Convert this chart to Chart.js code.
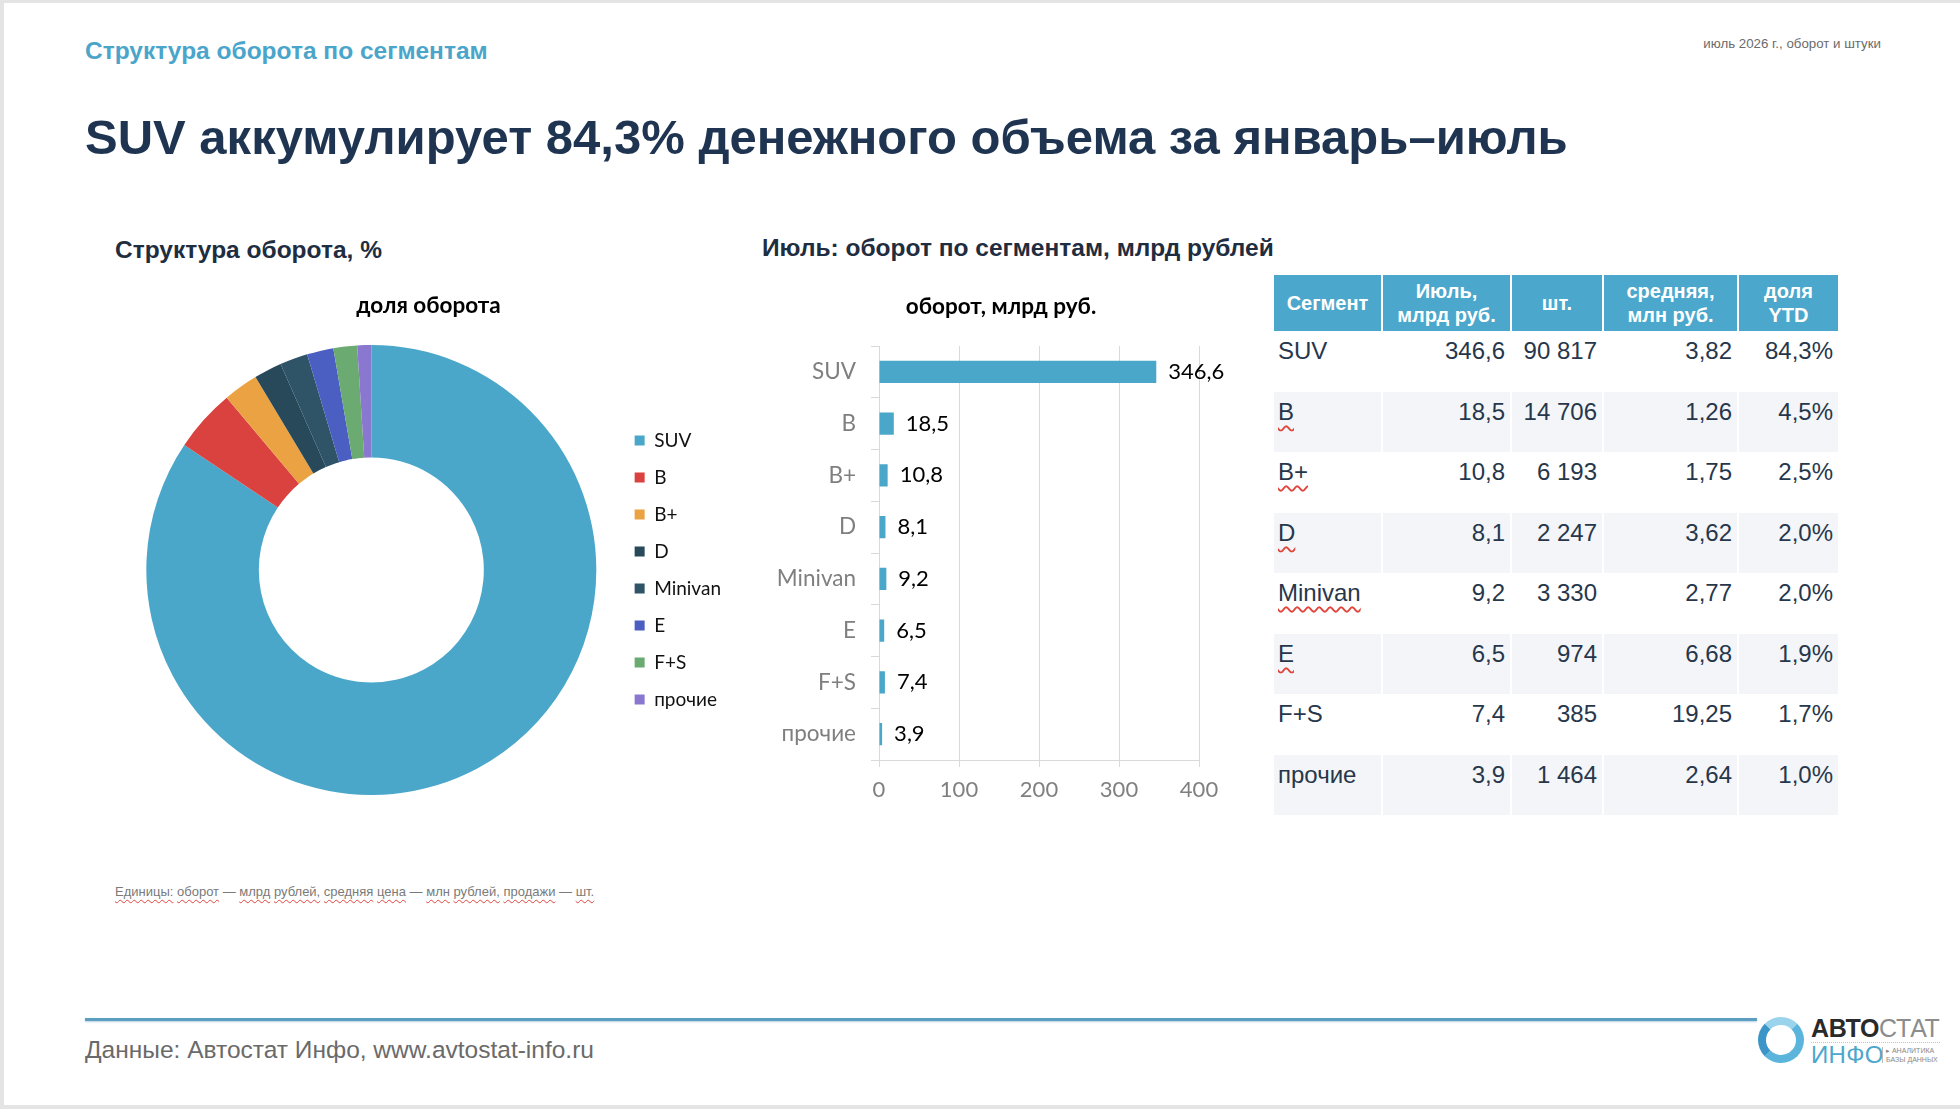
<!DOCTYPE html>
<html lang="ru">
<head>
<meta charset="utf-8">
<title>Структура оборота по сегментам</title>
<script src="https://cdn.jsdelivr.net/npm/chart.js@4.4.1/dist/chart.umd.min.js"></script>
<style>
  html, body { margin: 0; padding: 0; }
  body {
    width: 1960px; height: 1109px; position: relative; overflow: hidden;
    background: #e4e4e4; font-family: "Liberation Sans", Arial, sans-serif;
  }
  #slide { position: absolute; left: 4px; top: 3px; width: 1956px; height: 1102px; background: #fff; }
  .abs { position: absolute; white-space: nowrap; }

  #kicker { left: 85px; top: 37px; font-size: 24.5px; line-height: 28px; font-weight: bold; color: #4BA5CA; }
  #period { right: 79px; top: 36px; font-size: 13.3px; line-height: 16px; color: #6b6b6b; }
  #headline { left: 85px; top: 109px; font-size: 49px; line-height: 56px; font-weight: bold; color: #1E3450; }
  .section { font-size: 24.5px; line-height: 28px; font-weight: bold; color: #1F2D40; }
  #secLeft { left: 115px; top: 236px; }
  #secRight { left: 762px; top: 234px; }

  #donutBox { left: 126px; top: 280px; }
  #barBox { left: 760px; top: 280px; }
  #barTitle {
    left: 901px; top: 292px; width: 200px; text-align: center;
    font-family: Lato, "Open Sans", sans-serif; font-size: 22.5px; line-height: 27px; font-weight: bold; color: #000;
  }

  #segTable {
    position: absolute; left: 1274px; top: 275px; width: 564px;
    border-collapse: collapse; table-layout: fixed; color: #27374B;
  }
  #segTable th {
    background: #4BA7CB; color: #fff; font-size: 20px; line-height: 24px; font-weight: bold;
    height: 56px; padding: 0 2px; text-align: center; border-right: 2px solid #fff;
  }
  #segTable th:last-child, #segTable td:last-child { border-right: none; }
  #segTable td {
    font-size: 24px; line-height: 28px; height: 60.5px; box-sizing: border-box;
    padding: 6px 5px 0 4px; vertical-align: top; text-align: right; border-right: 2px solid #fff;
  }
  #segTable td:first-child { text-align: left; }
  #segTable tbody tr:nth-child(even) td { background: #F3F5F8; }
  .spell { text-decoration: underline wavy #E0463C; text-decoration-thickness: 1.5px; text-underline-offset: 5px; }

  #units { left: 115px; top: 884px; font-size: 13px; line-height: 16px; color: #7a7a7a; }
  #units .spell { text-underline-offset: 3px; text-decoration-thickness: 1px; }

  #footLine { position: absolute; left: 85px; top: 1018px; width: 1672px; height: 3px; background: #5C9EC1; box-shadow: 0 1px 2px rgba(90,150,190,0.45); }
  #source { left: 85px; top: 1036px; font-size: 24.5px; line-height: 28px; color: #6a6a6a; }

  #ring { position: absolute; left: 1758px; top: 1017px; width: 30px; height: 30px; border-radius: 50%;
    border: 8px solid #5BB4DB; border-top-color: #9AD3EC; border-left-color: #3C95C6; }
  #logo1 { left: 1811px; top: 1014px; font-size: 25px; line-height: 28px; letter-spacing: -0.3px; }
  #logo1 b { color: #2a2a2a; }
  #logo1 span { color: #8c8c8c; }
  #logoDots { position: absolute; left: 1811px; top: 1042px; width: 129px; border-top: 1px dotted #c4c4c4; }
  #logo2 { left: 1811px; top: 1041px; font-size: 24px; line-height: 28px; color: #4BA7CB; letter-spacing: 0.3px; }
  #logoSep { position: absolute; left: 1882px; top: 1047px; width: 1px; height: 16px; background: #bbb; }
  #logo3 { left: 1886px; top: 1046px; font-size: 7px; line-height: 9px; color: #888; }
</style>
</head>
<body>
<div id="slide"></div>

<div id="kicker" class="abs">Структура оборота по сегментам</div>
<div id="period" class="abs">июль 2026 г., оборот и штуки</div>
<div id="headline" class="abs">SUV аккумулирует 84,3% денежного объема за январь–июль</div>

<div id="secLeft" class="abs section">Структура оборота, %</div>
<div id="secRight" class="abs section">Июль: оборот по сегментам, млрд рублей</div>

<div id="donutBox" class="abs"><canvas id="donutChart" width="605" height="515"></canvas></div>
<div id="barBox" class="abs"><canvas id="barChart" width="480" height="530"></canvas></div>
<div id="barTitle" class="abs">оборот, млрд руб.</div>

<table id="segTable">
  <colgroup>
    <col style="width:108px"><col style="width:129px"><col style="width:92px"><col style="width:135px"><col style="width:100px">
  </colgroup>
  <thead><tr id="tableHead"></tr></thead>
  <tbody id="tableBody"></tbody>
</table>

<div id="units" class="abs"><span class="spell">Единицы:</span> <span class="spell">оборот</span> — <span class="spell">млрд</span> <span class="spell">рублей,</span> <span class="spell">средняя</span> <span class="spell">цена</span> — <span class="spell">млн</span> <span class="spell">рублей,</span> <span class="spell">продажи</span> — <span class="spell">шт.</span></div>

<div id="footLine"></div>
<div id="source" class="abs">Данные: Автостат Инфо, www.avtostat-info.ru</div>

<div id="ring"></div>
<div id="logo1" class="abs"><b>АВТО</b><span>СТАТ</span></div>
<div id="logoDots"></div>
<div id="logo2" class="abs">ИНФО</div>
<div id="logoSep"></div>
<div id="logo3" class="abs">▸ АНАЛИТИКА<br>БАЗЫ ДАННЫХ</div>

<script>
'use strict'

// data
const segments = ['SUV', 'B', 'B+', 'D', 'Minivan', 'E', 'F+S', 'прочие'];
const julyRevenue = [346.6, 18.5, 10.8, 8.1, 9.2, 6.5, 7.4, 3.9];
const julyUnits = [90817, 14706, 6193, 2247, 3330, 974, 385, 1464];
const avgPrice = [3.82, 1.26, 1.75, 3.62, 2.77, 6.68, 19.25, 2.64];
const ytdShare = [84.3, 4.5, 2.5, 2.0, 2.0, 1.9, 1.7, 1.0];
const revenueTicks = [0, 100, 200, 300, 400];
const tableHeaders = ['Сегмент', 'Июль,<br>млрд руб.', 'шт.', 'средняя,<br>млн руб.', 'доля<br>YTD'];
const spellMarked = ['B', 'B+', 'D', 'Minivan', 'E'];

const segmentColors = ['#4BA7C9', '#DA423F', '#EBA242', '#274959', '#2F5468', '#4A5FC1', '#6BAA70', '#8A78D0'];
const barColor = '#4BA7C9';
const axisGray = '#D9D9D9';
const labelGray = '#7F7F7F';

// number formats
const fmt1 = v => v.toFixed(1).replace('.', ',');
const fmt2 = v => v.toFixed(2).replace('.', ',');
const fmtInt = v => String(v).replace(/\B(?=(\d{3})+(?!\d))/g, ' ');

Chart.defaults.font.family = 'Lato, "Open Sans", sans-serif';
Chart.defaults.animation = false;

// table
const headRow = document.getElementById('tableHead');
tableHeaders.forEach(h => {
    let th = document.createElement('th');
    th.innerHTML = h;
    headRow.appendChild(th);
});

const tbody = document.getElementById('tableBody');
segments.forEach((seg, i) => {
    const tr = document.createElement('tr');
    const cells = [seg, fmt1(julyRevenue[i]), fmtInt(julyUnits[i]), fmt2(avgPrice[i]), fmt1(ytdShare[i]) + '%'];
    cells.forEach((text, c) => {
        let td = document.createElement('td');
        if (c === 0 && spellMarked.includes(seg)) {
            td.innerHTML = '<span class="spell">' + text + '</span>';
        } else {
            td.textContent = text;
        }
        tr.appendChild(td);
    });
    tbody.appendChild(tr);
});

// donut
new Chart(document.getElementById('donutChart'), {
    type: 'doughnut',
    data: {
        labels: segments,
        datasets: [{
            data: ytdShare,
            backgroundColor: segmentColors,
            borderWidth: 0
        }]
    },
    options: {
        responsive: false,
        cutout: '50%',
        plugins: {
            title: {
                display: true,
                text: 'доля оборота',
                color: '#000',
                font: { size: 22.5, weight: 'bold' },
                padding: { top: 12, bottom: 26 }
            },
            legend: {
                position: 'right',
                fullSize: false,
                labels: {
                    boxWidth: 10,
                    boxHeight: 10,
                    padding: 18,
                    color: '#111',
                    font: { size: 19 }
                }
            },
            tooltip: { enabled: false }
        }
    }
});

// value labels at the end of each bar
const barValueLabels = {
    id: 'barValueLabels',
    afterDatasetsDraw(chart) {
        const ctx = chart.ctx;
        const meta = chart.getDatasetMeta(0);
        ctx.save();
        ctx.font = '22px Lato, "Open Sans", sans-serif';
        ctx.fillStyle = '#000';
        ctx.textBaseline = 'middle';
        ctx.textAlign = 'left';
        meta.data.forEach((bar, i) => {
            ctx.fillText(fmt1(julyRevenue[i]), bar.x + 12, bar.y);
        });
        ctx.restore();
    }
};

// bars (title is the #barTitle div above)
new Chart(document.getElementById('barChart'), {
    type: 'bar',
    data: {
        labels: segments,
        datasets: [{
            data: julyRevenue,
            backgroundColor: barColor,
            categoryPercentage: 1,
            barPercentage: 0.43
        }]
    },
    options: {
        indexAxis: 'y',
        responsive: false,
        layout: { padding: { top: 66, right: 41 } },
        scales: {
            x: {
                min: 0,
                max: 400,
                afterBuildTicks: scale => { scale.ticks = revenueTicks.map(v => ({ value: v })); },
                afterFit: scale => { scale.height = 50; },
                grid: { color: axisGray, tickLength: 7 },
                border: { color: axisGray },
                ticks: { color: labelGray, font: { size: 22 }, padding: 10 }
            },
            y: {
                afterFit: scale => { scale.width = 119; },
                grid: { drawOnChartArea: false, color: axisGray, tickLength: 8 },
                border: { color: axisGray },
                ticks: { color: labelGray, font: { size: 22.5 }, padding: 15 }
            }
        },
        plugins: {
            legend: { display: false },
            tooltip: { enabled: false }
        }
    },
    plugins: [barValueLabels]
});
</script>
</body>
</html>
